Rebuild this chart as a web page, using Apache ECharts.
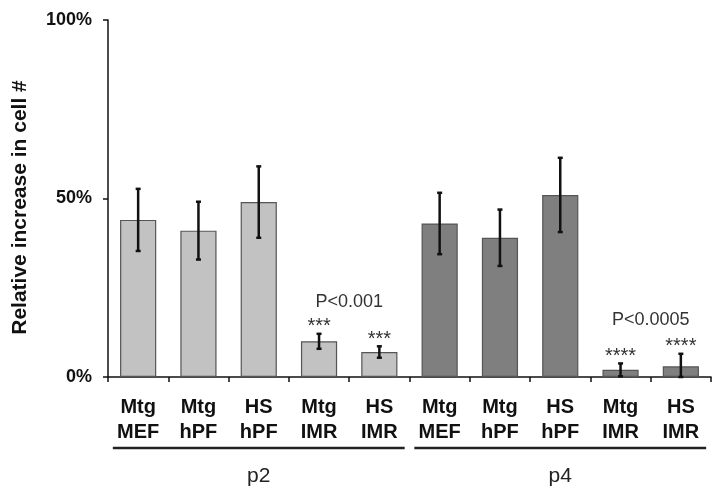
<!DOCTYPE html>
<html>
<head>
<meta charset="utf-8">
<script src="https://cdn.jsdelivr.net/npm/echarts@6/dist/echarts.min.js"></script>
<style>html,body{margin:0;padding:0;background:#fff}#c{width:724px;height:501px}</style>
</head>
<body>
<div id="c"></div>
<script>
const categories = ['Mtg\nMEF','Mtg\nhPF','HS\nhPF','Mtg\nIMR','HS\nIMR','Mtg\nMEF','Mtg\nhPF','HS\nhPF','Mtg\nIMR','HS\nIMR'];
const values = [44, 41, 49, 10, 7, 43, 39, 51, 2, 3];
const errors = [8.7, 8.1, 10, 2.1, 1.6, 8.6, 7.9, 10.4, 1.8, 3.5];
const groupColor = ['light','light','light','light','light','dark','dark','dark','dark','dark'];
const stars = ['', '', '', '***', '***', '', '', '', '****', '****'];
const groups = [{name:'p2', from:0, to:4}, {name:'p4', from:5, to:9}];
const pNotes = [{text:'P<0.001', between:[3,4], y:21}, {text:'P<0.0005', between:[8,9], y:16}];
const yTicks = [0, 50, 100];

const FONT = 'Arial, "Liberation Sans", sans-serif';
const colors = {light:'#c2c2c2', dark:'#7f7f7f'};

const chart = echarts.init(document.getElementById('c'), null, {renderer:'canvas'});
const option = {
  animation:false,
  backgroundColor:'#fff',
  grid:{left:108, right:13, top:20, bottom:124},
  xAxis:{
    type:'category', data:categories,
    axisLine:{lineStyle:{color:'#111', width:1.5}},
    axisTick:{show:true, length:5, inside:false, lineStyle:{color:'#111', width:1.5}},
    axisLabel:{color:'#111', fontFamily:FONT, fontWeight:'bold', fontSize:20, lineHeight:25, margin:18, interval:0}
  },
  yAxis:{
    type:'value', min:0, max:100, interval:50,
    name:'Relative increase in cell #', nameLocation:'middle', nameGap:77,
    nameTextStyle:{color:'#111', fontFamily:FONT, fontWeight:'bold', fontSize:21, padding:[0, 18, 0, 0]},
    axisLine:{show:true, lineStyle:{color:'#111', width:1.5}},
    axisTick:{show:true, length:5, lineStyle:{color:'#111', width:1.5}},
    splitLine:{show:false},
    axisLabel:{color:'#111', fontFamily:FONT, fontWeight:'bold', fontSize:18, margin:16, formatter:'{value}%'}
  },
  series:[
    {
      type:'bar', barWidth:'60%',
      data: values.map((v,i)=>({value:v, itemStyle:{color:colors[groupColor[i]], borderColor:'#555', borderWidth:1.2}})),
      z:2
    },
    {
      type:'custom', z:5,
      data: values.map((v,i)=>[i, v, errors[i]]),
      renderItem:function(params, api){
        const i = api.value(0), v = api.value(1), e = api.value(2);
        const top = api.coord([i, v + e]);
        const bot = api.coord([i, Math.max(0, v - e)]);
        const cw = 2.5;
        const children = [
          {type:'line', shape:{x1:top[0], y1:top[1], x2:bot[0], y2:bot[1]}, style:{stroke:'#111', lineWidth:2.5}},
          {type:'line', shape:{x1:top[0]-cw, y1:top[1], x2:top[0]+cw, y2:top[1]}, style:{stroke:'#111', lineWidth:2.5}},
          {type:'line', shape:{x1:bot[0]-cw, y1:bot[1], x2:bot[0]+cw, y2:bot[1]}, style:{stroke:'#111', lineWidth:2.5}}
        ];
        const s = stars[i];
        if (s) {
          children.push({type:'text', style:{text:s, x:top[0], y:top[1]-7, align:'center', verticalAlign:'middle', fill:'#333', font:'20px ' + FONT}});
        }
        return {type:'group', children:children};
      }
    },
    {
      type:'custom', z:5,
      data: pNotes.map(p=>[p.between[0], p.between[1], p.y]),
      renderItem:function(params, api){
        const a = api.coord([api.value(0), api.value(2)]);
        const b = api.coord([api.value(1), api.value(2)]);
        return {type:'text', style:{text:pNotes[params.dataIndex].text, x:(a[0]+b[0])/2, y:a[1], align:'center', verticalAlign:'middle', fill:'#333', font:'18px ' + FONT}};
      }
    }
  ]
};
chart.setOption(option);

// group underlines and group names, positioned through the axis scale
const axisY = chart.convertToPixel({gridIndex:0}, [0, 0])[1];
const step = chart.convertToPixel({xAxisIndex:0}, 1) - chart.convertToPixel({xAxisIndex:0}, 0);
const graphics = [];
groups.forEach(g=>{
  const x1 = chart.convertToPixel({xAxisIndex:0}, g.from) - step*0.42;
  const x2 = chart.convertToPixel({xAxisIndex:0}, g.to) + step*0.42;
  graphics.push({type:'line', shape:{x1:x1, y1:axisY+71, x2:x2, y2:axisY+71}, style:{stroke:'#222', lineWidth:2.5}});
  graphics.push({type:'text', style:{text:g.name, x:(x1+x2)/2, y:axisY+99, align:'center', verticalAlign:'middle', fill:'#222', font:'21px ' + FONT}});
});
chart.setOption({graphic:graphics});
</script>
</body>
</html>
